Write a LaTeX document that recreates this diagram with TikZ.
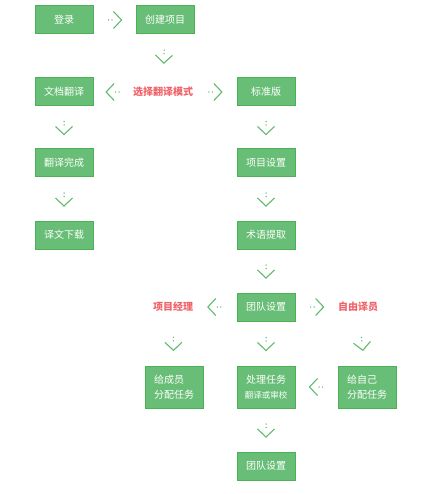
\documentclass[tikz,border=0pt]{standalone}
\usepackage{fontspec}
\setmainfont{Noto Sans CJK SC}
\usetikzlibrary{decorations.markings}
\definecolor{boxfill}{RGB}{104,190,118}
\definecolor{boxline}{RGB}{72,178,84}
\definecolor{flowgreen}{RGB}{96,186,106}
\definecolor{tagred}{RGB}{240,98,104}
\begin{document}
\begin{tikzpicture}[x=1pt,y=-1pt,
  box/.style={draw=boxline, line width=1pt, fill=boxfill, text=white,
    minimum width=58pt, minimum height=28pt, inner sep=0pt, align=left,
    font=\fontsize{10}{15.5}\selectfont},
  tall/.style={box, minimum height=42pt},
  tag/.style={text=tagred, inner sep=0pt, minimum height=28pt,
    font=\fontsize{10}{12}\selectfont\bfseries},
  flow/.style={draw=none, postaction={decorate}, decoration={markings,
    mark=at position 0.5 with {
      \fill[flowgreen] (-6pt,0pt) circle (0.75pt) (-2.5pt,0pt) circle (0.75pt);
      \draw[flowgreen, line width=1.1pt] (-1pt,8.5pt) -- (7pt,0pt) -- (-1pt,-8.5pt);}}}]
  \useasboundingbox (0,0) rectangle (431,494);
  % left column
  \node [box]  (login)    at (64,20)  {登录};
  \node [box]  (doc)      at (64,92)  {文档翻译};
  \node [box]  (done)     at (64,163) {翻译完成};
  \node [box]  (download) at (64,235) {译文下载};
  % right column
  \node [box]  (create) at (165,20)  {创建项目};
  \node [tag]  (mode)   at (163,92)  {选择翻译模式};
  \node [box]  (std)    at (266,92)  {标准版};
  \node [box]  (setup)  at (266,163) {项目设置};
  \node [box]  (term)   at (266,235) {术语提取};
  \node [box]  (team)   at (266,307) {团队设置};
  \node [tag]  (pm)     at (173,307) {项目经理};
  \node [tag]  (free)   at (358,307) {自由译员};
  \node [tall] (assign) at (174,387) {给成员\\分配任务};
  \node [tall, align=center] (handle) at (266,387)
    {处理任务\\{\fontsize{8.5}{10}\selectfont 翻译或审校}};
  \node [tall] (self)   at (367,387) {给自己\\分配任务};
  \node [box]  (team2)  at (266,466) {团队设置};
  % connectors
  \draw [flow] (login) -- (create);
  \draw [flow] (create) -- (mode);
  \draw [flow] (mode) -- (doc);
  \draw [flow] (mode) -- (std);
  \draw [flow] (doc) -- (done);
  \draw [flow] (done) -- (download);
  \draw [flow] (std) -- (setup);
  \draw [flow] (setup) -- (term);
  \draw [flow] (term) -- (team);
  \draw [flow] (team) -- (pm);
  \draw [flow] (team) -- (free);
  \draw [flow] (pm) -- (assign);
  \draw [flow] (team) -- (handle);
  \draw [flow] (free) -- (self);
  \draw [flow] (self) -- (handle);
  \draw [flow] (handle) -- (team2);
\end{tikzpicture}
\end{document}
